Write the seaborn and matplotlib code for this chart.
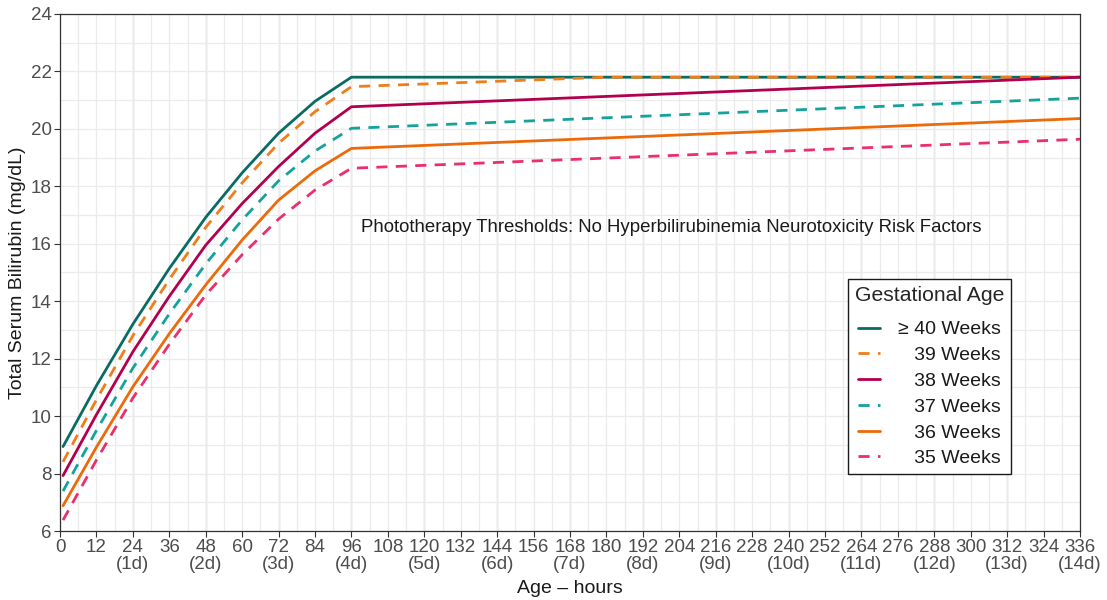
import numpy as np
import pandas as pd
import matplotlib
matplotlib.use("Agg")
import matplotlib.pyplot as plt
import seaborn as sns

hours_rise = [1, 12, 24, 36, 48, 60, 72, 84, 96]

ga40_y = [8.94, 11.06, 13.2, 15.14, 16.92, 18.47, 19.85, 20.96, 21.8, 21.8]
ga40_x = hours_rise + [336]
ga39_y = [8.41, 10.57, 12.8, 14.76, 16.57, 18.12, 19.5, 20.6, 21.47, 21.8, 21.8]
ga39_x = hours_rise + [180, 336]
ga38_y = [7.93, 10.05, 12.24, 14.17, 15.95, 17.4, 18.69, 19.85, 20.77, 21.8]
ga38_x = hours_rise + [336]
ga37_y = [7.39, 9.5, 11.67, 13.56, 15.3, 16.83, 18.19, 19.23, 20.02, 21.07]
ga37_x = hours_rise + [336]
ga36_y = [6.88, 8.92, 11.02, 12.87, 14.57, 16.13, 17.52, 18.54, 19.32, 20.36]
ga36_x = hours_rise + [336]
ga35_y = [6.38, 8.47, 10.63, 12.5, 14.22, 15.62, 16.86, 17.87, 18.63, 19.64]
ga35_x = hours_rise + [336]

groups = ["40", "39", "38", "37", "36", "35"]
legend_labels = ["\u2265 40 Weeks", "   39 Weeks", "   38 Weeks",
                 "   37 Weeks", "   36 Weeks", "   35 Weeks"]
colors = {"40": "#0a6b63", "39": "#ee7d1a", "38": "#b2004f",
          "37": "#14a29c", "36": "#ec6a0a", "35": "#ea2f6a"}
dashes = {"40": "", "39": (4, 3), "38": "", "37": (4, 3), "36": "", "35": (4, 3)}

xs = [ga40_x, ga39_x, ga38_x, ga37_x, ga36_x, ga35_x]
ys = [ga40_y, ga39_y, ga38_y, ga37_y, ga36_y, ga35_y]
df = pd.concat([pd.DataFrame({"hours": x, "tsb": y, "ga": g})
                for g, x, y in zip(groups, xs, ys)], ignore_index=True)

sns.set_style("white")
plt.rcParams["font.family"] = ["Liberation Sans", "DejaVu Sans"]

fig = plt.figure(figsize=(11.07, 6), dpi=100)
ax = fig.add_axes([60 / 1107, 1 - 531 / 600, 1020 / 1107, 517 / 600])

sns.lineplot(data=df, x="hours", y="tsb", hue="ga", style="ga",
             hue_order=groups, style_order=groups, palette=colors,
             dashes=dashes, linewidth=2.0, ax=ax, sort=False)

ax.set_xlim(0, 336)
ax.set_ylim(6, 24)

# grid
ax.set_xticks(np.arange(0, 337, 6), minor=True)
ax.set_yticks(np.arange(6, 25, 1), minor=True)
ax.grid(which="both", color="#ebebeb", lw=0.9, zorder=0)
for h in range(24, 336, 24):
    ax.axvline(h, color="#d0d0d0", lw=1.0, zorder=0.5)
ax.set_axisbelow(True)

xt = np.arange(0, 337, 12)
xl = [f"{h}\n({h // 24}d)" if h % 24 == 0 and h > 0 else str(h) for h in xt]
ax.set_xticks(xt)
ax.set_xticklabels(xl, linespacing=1.0)
ax.set_yticks(np.arange(6, 25, 2))
ax.tick_params(axis="both", which="major", labelsize=13.5, labelcolor="#4d4d4d",
               length=4, width=0.8, color="#333333", direction="out",
               bottom=True, left=True, pad=2)
ax.tick_params(which="minor", length=0)
for s in ax.spines.values():
    s.set_color("#333333")
    s.set_linewidth(0.9)

ax.set_xlabel("Age \u2013 hours", fontsize=14, color="#1a1a1a", labelpad=5)
ax.set_ylabel("Total Serum Bilirubin (mg/dL)", fontsize=14, color="#1a1a1a", labelpad=3)

ax.text(201.5, 16.55, "Phototherapy Thresholds: No Hyperbilirubinemia Neurotoxicity Risk Factors",
        ha="center", va="center", fontsize=13.4, color="#1a1a1a")

handles, _ = ax.get_legend_handles_labels()
leg = ax.legend(handles[-6:], legend_labels, title="Gestational Age",
                loc="upper left", bbox_to_anchor=(0.7725, 0.4874),
                fontsize=14, title_fontsize=15.2, frameon=True, fancybox=False,
                edgecolor="#1a1a1a", framealpha=1, handlelength=1.15,
                labelspacing=0.42, borderpad=0.35, handletextpad=0.9,
                borderaxespad=0)
leg._legend_box.sep = 11.5  # extra room under the title
leg.get_frame().set_linewidth(1.0)
for t in leg.get_texts():
    t.set_color("#1a1a1a")

fig.savefig("out.png", dpi=100)
